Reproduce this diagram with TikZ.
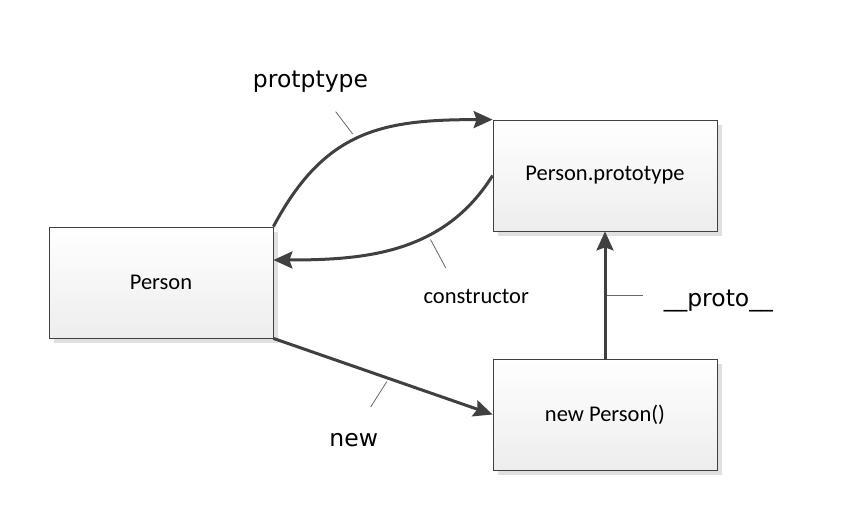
\documentclass[tikz,border=0pt]{standalone}
\usepackage{fontspec}
\setmainfont{Carlito}
\newfontfamily\labelfont{DejaVu Sans}
\usetikzlibrary{arrows.meta,positioning,shadows}

\tikzset{
  obj/.style={rectangle,draw=black!75,line width=0.8pt,top color=white,bottom color=black!7,
    minimum width=224pt,minimum height=111pt,inner sep=0pt,
    drop shadow={shadow xshift=5pt,shadow yshift=-5pt,fill=black!12,opacity=1},
    font=\fontsize{22.5}{26}\selectfont},
  conn/.style={-{Stealth[length=19pt,width=17pt,inset=3pt]},color=black!75,line width=3pt},
  tick/.style={draw=black!60,line width=0.8pt},
  lbl/.style={anchor=base,inner sep=0pt,font=\labelfont\fontsize{23.5}{27}\selectfont},
  clbl/.style={anchor=base,inner sep=0pt,font=\fontsize{22.5}{26}\selectfont}
}

\begin{document}
\begin{tikzpicture}[x=1pt,y=1pt,on grid]
   \useasboundingbox (0,0) rectangle (858,-526);
   \node[obj] (person) at (161,-282.5) {Person};
   \node[obj] (proto) [above right=107pt and 444pt of person] {Person.prototype};
   \node[obj] (inst) [below right=132pt and 444pt of person] {new Person()};
   \path[conn]
    (person.north east) edge[out=62,in=180,looseness=1.15] (proto.north west)
    (proto.west) edge[out=238,in=0] ([yshift=22.5pt]person.east)
    (person.south east) edge (inst.west)
    (inst.north) edge (proto.south);
   % label ticks
   \coordinate (t_pa) at (335.7,-111.7);
   \coordinate (t_pb) at (352.7,-134);
   \coordinate (t_ca) at (430.5,-239.5);
   \coordinate (t_cb) at (445.8,-268);
   \coordinate (t_na) at (386.7,-381.7);
   \coordinate (t_nb) at (370.7,-407);
   \coordinate (t_ua) at (606.7,-295.7);
   \coordinate (t_ub) at (643,-295.7);
   \draw[tick] (t_pa) -- (t_pb);
   \draw[tick] (t_ca) -- (t_cb);
   \draw[tick] (t_na) -- (t_nb);
   \draw[tick] (t_ua) -- (t_ub);
   \node[lbl] (l_proto) at (310.5,-88) {protptype};
   \node[clbl] (l_ctor) at (476.2,-303.3) {constructor};
   \node[lbl] (l_new) at (353.7,-446) {new};
   \node[lbl] (l_uproto) at (718.3,-306) {\_\_proto\_\_};
\end{tikzpicture}
\end{document}
